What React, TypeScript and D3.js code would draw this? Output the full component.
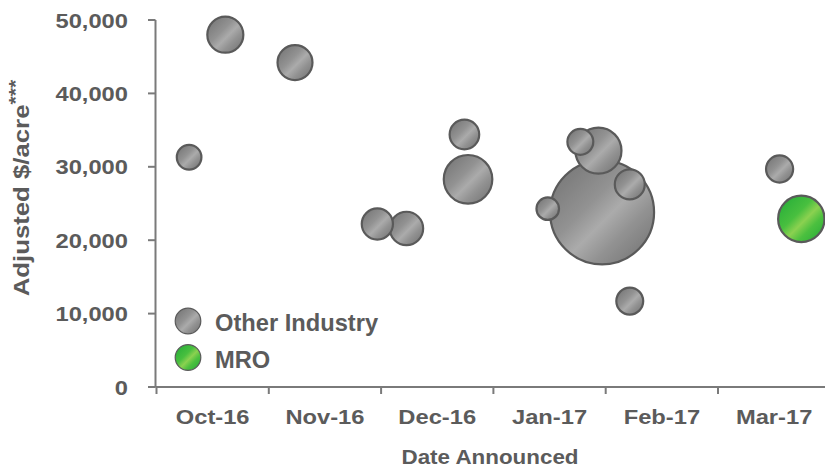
import React from "react";
import * as d3 from "d3";

// Deals announced, Oct-16 .. Mar-17
const monthLabels = ["Oct-16", "Nov-16", "Dec-16", "Jan-17", "Feb-17", "Mar-17"];
const monthStarts = ["2016-10-01", "2016-11-01", "2016-12-01", "2017-01-01", "2017-02-01", "2017-03-01"];

const otherDates = [
  "2016-10-10", "2016-10-20", "2016-11-08", "2016-11-30", "2016-12-08",
  "2016-12-24", "2016-12-25", "2017-01-16", "2017-01-31", "2017-01-30",
  "2017-01-25", "2017-02-07", "2017-02-07", "2017-03-18",
];
const otherPerAcre = [
  31300, 48000, 44200, 22200, 21600,
  34400, 28300, 24300, 23800, 32200,
  33400, 27600, 11700, 29700,
];
const otherSize = [
  5.6, 12.0, 11.3, 9.0, 10.3,
  8.1, 21.8, 4.7, 100, 19.6,
  6.2, 8.3, 6.7, 6.8,
];

const mroDates = ["2017-03-24"];
const mroPerAcre = [22900];
const mroSize = [19.9];

const yTickValues = [0, 10000, 20000, 30000, 40000, 50000];

const W = 825;
const H = 468;
const TEXT = "#5b5b5b";
const AXIS = "#7a7a7a";
const STROKE = "#5a5a5a";
const FONT = "'Liberation Sans', Arial, sans-serif";

// position of a date on the month axis: month index + fraction of month elapsed
const parse = d3.timeParse("%Y-%m-%d");
const monthPos = (s: string) => {
  const d = parse(s)!;
  const idx = monthStarts.findIndex((m) => {
    const start = parse(m)!;
    const next = d3.timeMonth.offset(start, 1);
    return d >= start && d < next;
  });
  const start = parse(monthStarts[idx])!;
  const days = d3.timeDay.count(start, d3.timeMonth.offset(start, 1));
  return idx + (d.getDate() - 1) / days;
};

const x = d3.scaleLinear().domain([0, 6]).range([156.5, 830.3]);
const y = d3.scaleLinear().domain([0, 50000]).range([387, 20]);
const r = d3.scaleSqrt().domain([0, 100]).range([0, 52]);
const fmt = d3.format(",");

type Bubble = { pos: number; val: number; size: number; fill: string };

const others: Bubble[] = otherDates.map((d, i) => ({
  pos: monthPos(d),
  val: otherPerAcre[i],
  size: otherSize[i],
  fill: "url(#gradGray)",
}));
const mro: Bubble[] = mroDates.map((d, i) => ({
  pos: monthPos(d),
  val: mroPerAcre[i],
  size: mroSize[i],
  fill: "url(#gradGreen)",
}));

const Label = ({
  x: tx, y: ty, sx = 1, anchor = "start", size, rotate, children,
}: {
  x: number; y: number; sx?: number; anchor?: string; size: number; rotate?: number; children: React.ReactNode;
}) => (
  <text
    transform={`translate(${tx},${ty})${rotate ? ` rotate(${rotate})` : ""} scale(${sx},1)`}
    textAnchor={anchor}
    fontSize={size}
    fontWeight="bold"
    fontFamily={FONT}
    fill={TEXT}
  >
    {children}
  </text>
);

export default function App() {
  const sorted = [...others].sort((a, b) => b.size - a.size);
  const bubbles = [...sorted, ...mro];
  const yTicks = y.ticks(5).filter((t) => yTickValues.includes(t));

  return (
    <div style={{ position: "absolute", left: 0, top: 0 }}>
      <svg width={W} height={H} style={{ display: "block", background: "#fff" }}>
        <defs>
          <linearGradient id="gradGray" x1="0" y1="0" x2="1" y2="1">
            <stop offset="0" stopColor="#707070" />
            <stop offset="0.4" stopColor="#929292" />
            <stop offset="0.55" stopColor="#ababab" />
            <stop offset="0.7" stopColor="#929292" />
            <stop offset="1" stopColor="#6e6e6e" />
          </linearGradient>
          <linearGradient id="gradGreen" x1="0" y1="0" x2="1" y2="1">
            <stop offset="0" stopColor="#20aa37" />
            <stop offset="0.4" stopColor="#48bf3f" />
            <stop offset="0.55" stopColor="#8bd150" />
            <stop offset="0.7" stopColor="#4cc03f" />
            <stop offset="1" stopColor="#1fa936" />
          </linearGradient>
        </defs>

        {/* y axis */}
        <line x1={155.5} x2={155.5} y1={y(50000)} y2={y(0)} stroke={AXIS} strokeWidth={2} />
        {yTicks.map((t) => (
          <g key={t}>
            <line x1={148} x2={155.5} y1={y(t)} y2={y(t)} stroke={AXIS} strokeWidth={2} />
            <Label x={128} y={y(t) + 7.5} anchor="end" size={21} sx={1.13}>
              {fmt(t)}
            </Label>
          </g>
        ))}

        {/* x axis */}
        <line x1={155.5} x2={W} y1={y(0)} y2={y(0)} stroke={AXIS} strokeWidth={2} />
        {d3.range(0, 7).map((i) => (
          <line key={i} x1={x(i)} x2={x(i)} y1={y(0)} y2={y(0) + 7} stroke={AXIS} strokeWidth={2} />
        ))}
        {monthLabels.map((m, i) => (
          <Label key={m} x={x(i + 0.5)} y={424} anchor="middle" size={21} sx={1.13}>
            {m}
          </Label>
        ))}

        {/* axis titles */}
        <Label x={490} y={463.5} anchor="middle" size={20} sx={1.12}>
          Date Announced
        </Label>
        <Label x={28.5} y={188} anchor="middle" size={23} sx={1.12} rotate={-90}>
          Adjusted $/acre
          <tspan fontSize={19} dy={-7}>***</tspan>
        </Label>

        {/* bubbles */}
        {bubbles.map((b, i) => (
          <circle
            key={i}
            cx={x(b.pos)}
            cy={y(b.val)}
            r={r(b.size)}
            fill={b.fill}
            stroke={STROKE}
            strokeWidth={2.2}
          />
        ))}

        {/* legend */}
        <circle cx={188} cy={321} r={12.8} fill="url(#gradGray)" stroke={STROKE} strokeWidth={1.2} />
        <Label x={215} y={330.5} size={23} sx={1.03}>Other Industry</Label>
        <circle cx={188} cy={357.5} r={12.8} fill="url(#gradGreen)" stroke={STROKE} strokeWidth={1.2} />
        <Label x={215} y={367.5} size={23} sx={1.03}>MRO</Label>
      </svg>
    </div>
  );
}
